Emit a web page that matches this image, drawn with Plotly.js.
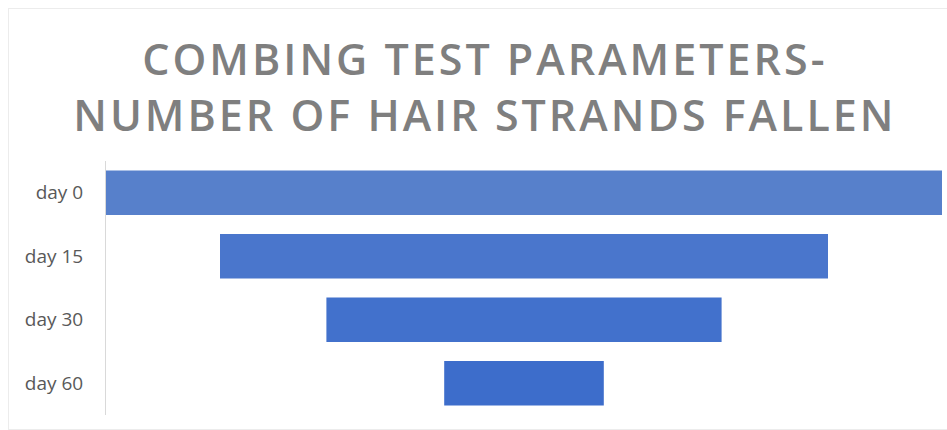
<!DOCTYPE html>
<html>
<head>
<meta charset="utf-8">
<script src="https://cdn.plot.ly/plotly-3.0.1.min.js"></script>
<style>
  html, body { margin: 0; padding: 0; background: #ffffff; }
  #frame { position: absolute; left: 8px; top: 8px; width: 945px; height: 422px; border: 1px solid #ececec; box-sizing: border-box; }
  #chart { position: absolute; left: 0; top: 0; width: 947px; height: 430px; }
  .gtitle { letter-spacing: 3px; }
</style>
</head>
<body>
<div id="frame"></div>
<div id="chart"></div>
<script>
const categories = ['day 0', 'day 15', 'day 30', 'day 60'];
const values = [55, 40, 26, 10.5];
const barColors = ['#5780cb', '#4a76cc', '#4271cc', '#3d6dcb'];
const titleText = 'COMBING TEST PARAMETERS-<br>NUMBER OF HAIR STRANDS FALLEN';

const maxVal = Math.max(...values);

const trace = {
  type: 'funnel',
  y: categories,
  x: values,
  textinfo: 'none',
  hoverinfo: 'x+y',
  marker: { color: barColors, line: { width: 0 } },
  connector: { visible: false }
};

const layout = {
  width: 947,
  height: 430,
  paper_bgcolor: 'rgba(0,0,0,0)',
  plot_bgcolor: 'rgba(0,0,0,0)',
  margin: { l: 106, r: 5, t: 161, b: 15 },
  funnelgap: 0.3,
  showlegend: false,
  title: {
    text: titleText,
    font: { family: 'Open Sans, sans-serif', size: 43, color: '#7f7f7f', weight: 600 },
    x: 0.512, xref: 'container', xanchor: 'center',
    y: 1 - 75 / 430, yref: 'container', yanchor: 'top'
  },
  xaxis: { visible: false, range: [-maxVal / 2, maxVal / 2], fixedrange: true },
  yaxis: {
    showline: true, linecolor: '#d9d9d9', linewidth: 1,
    showgrid: false, ticks: '', ticklabelstandoff: 18,
    tickfont: { family: 'Open Sans, sans-serif', size: 19, color: '#595959' }
  }
};

Plotly.newPlot('chart', [trace], layout, { displayModeBar: false, staticPlot: true });
</script>
</body>
</html>
